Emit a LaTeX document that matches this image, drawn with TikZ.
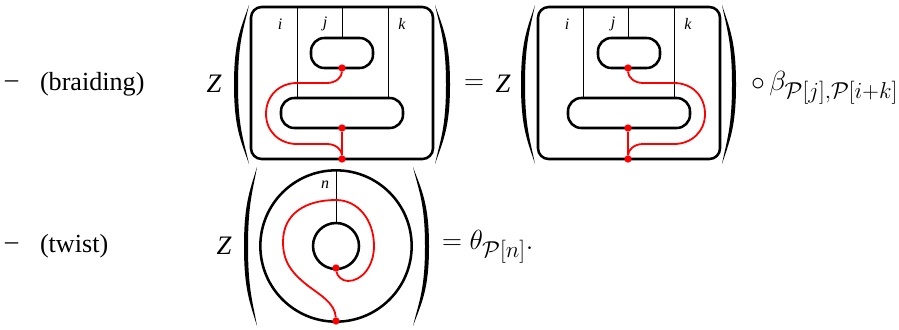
\documentclass[tikz,border=0pt]{standalone}
\usepackage{fontspec}
\setmainfont{Liberation Serif}
\DeclareMathSizes{20}{22}{16}{12}
\newcommand{\PP}{\mathcal{P}}
% filled parenthesis: tip x, mid x, top y, bottom y, thickness (signed)
\newcommand{\bigparen}[5]{%
  \pgfmathsetmacro{\ymid}{(#3+#4)/2}\pgfmathsetmacro{\hq}{(#4-#3)*0.27}%
  \pgfmathsetmacro{\xin}{#2+#5}%
  \pgfmathsetmacro{\xa}{#1+(#2-#1)*0.55}%
  \pgfmathsetmacro{\xb}{#1+(#2-#1)*0.55+#5*0.75}%
  \fill[black] (#1,#3) .. controls (\xa,#3+\hq*0.55) and (#2,\ymid-\hq) .. (#2,\ymid)
    .. controls (#2,\ymid+\hq) and (\xa,#4-\hq*0.55) .. (#1,#4)
    .. controls (\xb,#4-\hq*0.55) and (\xin,\ymid+\hq) .. (\xin,\ymid)
    .. controls (\xin,\ymid-\hq) and (\xb,#3+\hq*0.55) .. (#1,#3) -- cycle;}
\tikzset{
  x=0.75pt,y=-0.75pt,
  thickline/.style={draw=black,line width=1.9pt},
  thinline/.style={draw=black,line width=0.5pt},
  redline/.style={draw=red,line width=1.35pt},
  redstem/.style={draw=red,line width=1.7pt},
  outerbox/.style={thickline,rounded corners=8pt,minimum width=136.5pt,minimum height=114pt,inner sep=0pt,outer sep=0pt},
  upperbox/.style={thickline,rounded corners=10pt,minimum width=46.5pt,minimum height=22.5pt,inner sep=0pt,outer sep=0pt},
  lowerbox/.style={thickline,rounded corners=10pt,minimum width=91.5pt,minimum height=22.5pt,inner sep=0pt,outer sep=0pt},
  rdot/.style={circle,fill=red,inner sep=0pt,minimum size=5.5pt,outer sep=0pt},
  txt/.style={inner sep=0pt,outer sep=0pt,font=\fontsize{20}{24}\selectfont},
  plain/.style={inner sep=0pt,outer sep=0pt,font=\fontsize{19.6}{24}\selectfont},
  lab/.style={inner sep=0pt,outer sep=0pt,font=\fontsize{12}{14}\selectfont\itshape},
}
\begin{document}
\begin{tikzpicture}
\useasboundingbox (0,0) rectangle (899,329);
% left column
\node[plain,anchor=west] (d1) at (5,84) {--};
\node[plain,anchor=west] (t1) at (40,84) {(braiding)};
\node[plain,anchor=west] (d2) at (5,246) {--};
\node[plain,anchor=west] (t2) at (40,246) {(twist)};
% braiding, left side
\node[txt] (z1) at (214,84) {\itshape Z};
\bigparen{249}{234}{5}{164}{4}
\bigparen{435}{450}{5}{164}{-4}
\node[outerbox] (A) at (342,83) {};
\node[upperbox] (Au) at (342,53) {};
\node[lowerbox] (Al) at (342,113) {};
\coordinate (Ai) at (297,7); \coordinate (Aj) at (342,7); \coordinate (Ak) at (388,7);
\coordinate (Aib) at (297,98); \coordinate (Ajb) at (342,38); \coordinate (Akb) at (388,98);
\draw[thinline] (Ai) -- (Aib);
\draw[thinline] (Aj) -- (Ajb);
\draw[thinline] (Ak) -- (Akb);
\node[lab] (li) at (280,24) {i};
\node[lab] (lj) at (325,24) {j};
\node[lab] (lk) at (402,24) {k};
\node[rdot] (Ad1) at (342,68) {};
\node[rdot] (Ad2) at (342,128) {};
\node[rdot] (Ad3) at (342,159) {};
\draw[redline] (Ad1) .. controls (342,77) and (336,83) .. (327,83) -- (297,83)
  .. controls (279,83) and (266,96) .. (266,114) .. controls (266,131) and (279,144) .. (297,144)
  -- (327,144) .. controls (336,144) and (342,150) .. (Ad3);
\draw[redstem] (Ad2) -- (Ad3);
% equals
\node[txt] (eq1) at (474,85) {$=$};
\node[txt] (z2) at (503,84) {\itshape Z};
% braiding, right side
\bigparen{535}{521}{5}{164}{4}
\bigparen{722}{736}{5}{164}{-4}
\node[outerbox] (B) at (629,83) {};
\node[upperbox] (Bu) at (629,53) {};
\node[lowerbox] (Bl) at (629,113) {};
\coordinate (Bi) at (583,7); \coordinate (Bj) at (628,7); \coordinate (Bk) at (674,7);
\coordinate (Bib) at (583,98); \coordinate (Bjb) at (628,38); \coordinate (Bkb) at (674,98);
\draw[thinline] (Bi) -- (Bib);
\draw[thinline] (Bj) -- (Bjb);
\draw[thinline] (Bk) -- (Bkb);
\node[lab] (mi) at (567,24) {i};
\node[lab] (mj) at (613,24) {j};
\node[lab] (mk) at (688,24) {k};
\node[rdot] (Bd1) at (628,68) {};
\node[rdot] (Bd2) at (628,128) {};
\node[rdot] (Bd3) at (628,159) {};
\draw[redline] (Bd1) .. controls (628,77) and (634,83) .. (643,83) -- (674,83)
  .. controls (692,83) and (705,96) .. (705,114) .. controls (705,131) and (692,144) .. (674,144)
  -- (643,144) .. controls (634,144) and (628,150) .. (Bd3);
\draw[redstem] (Bd2) -- (Bd3);
\node[txt,anchor=west] (beta) at (751,88) {$\circ\,\beta_{\PP[j],\PP[i+k]}$};
% twist
\node[txt] (z3) at (224,246) {\itshape Z};
\bigparen{257}{244}{167}{326}{4}
\bigparen{413}{429}{167}{326}{-4}
\node[circle,thickline,minimum size=113.5pt,inner sep=0pt,outer sep=0pt] (C) at (336,246) {};
\node[circle,thickline,minimum size=34.5pt,inner sep=0pt,outer sep=0pt] (Ci) at (336,246) {};
\draw[thinline] (C.north) -- (Ci.north);
\node[lab] (ln) at (325,185) {n};
\node[rdot] (Cd1) at (336,268) {};
\node[rdot] (Cd2) at (336,321) {};
\draw[redline] (Cd1) .. controls (337,276) and (342,281) .. (348,281)
  .. controls (362,281) and (374,266) .. (374,246)
  .. controls (374,220) and (358,200) .. (336,200)
  .. controls (305,200) and (283,214) .. (283,242)
  .. controls (283,262) and (292,273) .. (307,285)
  .. controls (320,295) and (335,303) .. (Cd2);
\node[txt,anchor=west] (theta) at (442,247) {$=\theta_{\PP[n]}.$};
\end{tikzpicture}
\end{document}
